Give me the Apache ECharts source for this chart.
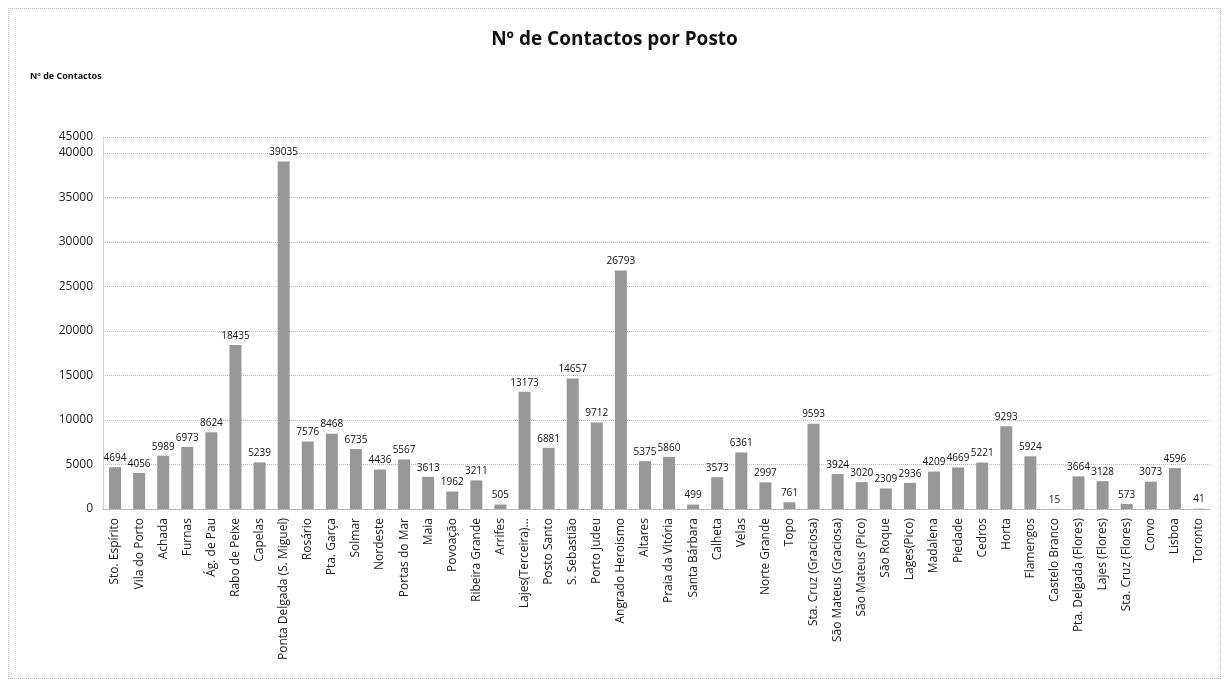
<!DOCTYPE html>
<html>
<head>
<meta charset="utf-8">
<script src="https://cdn.jsdelivr.net/npm/echarts@6/dist/echarts.min.js"></script>
<style>
  html, body { margin: 0; padding: 0; background: #fff; }
  #chart { width: 1229px; height: 687px; position: relative; }
  .frame {
    position: absolute; left: 8px; top: 8px; width: 1213px; height: 671px;
    border: 1px dotted #bbb; box-sizing: border-box; pointer-events: none;
  }
</style>
</head>
<body>
<div style="position:relative;width:1229px;height:687px">
  <div id="chart"></div>
  <div class="frame"></div>
</div>
<script>
const postos = [
  'Sto. Espírito', 'Vila do Porto', 'Achada', 'Furnas', 'Ág. de Pau', 'Rabo de Peixe',
  'Capelas', 'Ponta Delgada (S. Miguel)', 'Rosário', 'Pta. Garça', 'Solmar', 'Nordeste',
  'Portas do Mar', 'Maia', 'Povoação', 'Ribeira Grande', 'Arrifes', 'Lajes(Terceira)...',
  'Posto Santo', 'S. Sebastião', 'Porto Judeu', 'Angrado Heroismo', 'Altares', 'Praia da Vitória',
  'Santa Bárbara', 'Calheta', 'Velas', 'Norte Grande', 'Topo', 'Sta. Cruz (Graciosa)',
  'São Mateus (Graciosa)', 'São Mateus (Pico)', 'São Roque', 'Lages(Pico)', 'Madalena', 'Piedade',
  'Cedros', 'Horta', 'Flamengos', 'Castelo Branco', 'Pta. Delgada (Flores)', 'Lajes (Flores)',
  'Sta. Cruz (Flores)', 'Corvo', 'Lisboa', 'Toronto'
]
const contactos = [
  4694, 4056, 5989, 6973, 8624, 18435,
  5239, 39035, 7576, 8468, 6735, 4436,
  5567, 3613, 1962, 3211, 505, 13173,
  6881, 14657, 9712, 26793, 5375, 5860,
  499, 3573, 6361, 2997, 761, 9593,
  3924, 3020, 2309, 2936, 4209, 4669,
  5221, 9293, 5924, 15, 3664, 3128,
  573, 3073, 4596, 41
]
// the scanned original squeezes its top gridline; top edge is labelled 45000
const yTop = 41800
const yTopLabel = '45000'

const chart = echarts.init(document.getElementById('chart'))

chart.setOption({
  animation: false,
  textStyle: { fontFamily: 'Open Sans, Liberation Sans, sans-serif' },
  title: {
    text: 'Nº de Contactos por Posto',
    left: 'center',
    top: 25,
    textStyle: { fontSize: 19, fontWeight: 'bold', color: '#111' },
  },
  grid: { left: 103, right: 18, top: 137, bottom: 178 },
  xAxis: {
    type: 'category',
    data: postos,
    axisLine: { lineStyle: { color: '#aaa', type: 'dotted' } },
    axisTick: { show: false },
    axisLabel: {
      rotate: 90,
      interval: 0,
      fontSize: 12,
      color: '#222',
      margin: 9,
    },
  },
  yAxis: {
    type: 'value',
    min: 0,
    max: yTop,
    interval: 5000,
    name: 'Nº de Contactos',
    nameLocation: 'end',
    nameGap: 56,
    nameTextStyle: { fontSize: 9, fontWeight: 'bold', color: '#111', align: 'left', padding: [0, 0, 0, -73] },
    axisLine: { show: true, lineStyle: { color: '#ccc', type: 'dotted' } },
    axisTick: { show: false },
    axisLabel: {
      fontSize: 12,
      color: '#222',
      margin: 10,
      showMaxLabel: true,
      formatter: (v) => (v > 40000 ? yTopLabel : String(v)),
    },
    splitLine: { lineStyle: { color: '#bbb', type: 'dotted' } },
  },
  series: [
    {
      name: 'Nº de Contactos',
      type: 'bar',
      data: contactos,
      barWidth: 12,
      itemStyle: { color: '#979797' },
      label: {
        show: true,
        position: 'top',
        fontSize: 10,
        color: '#111',
        distance: 4,
      },
    },
  ],
})
</script>
</body>
</html>
